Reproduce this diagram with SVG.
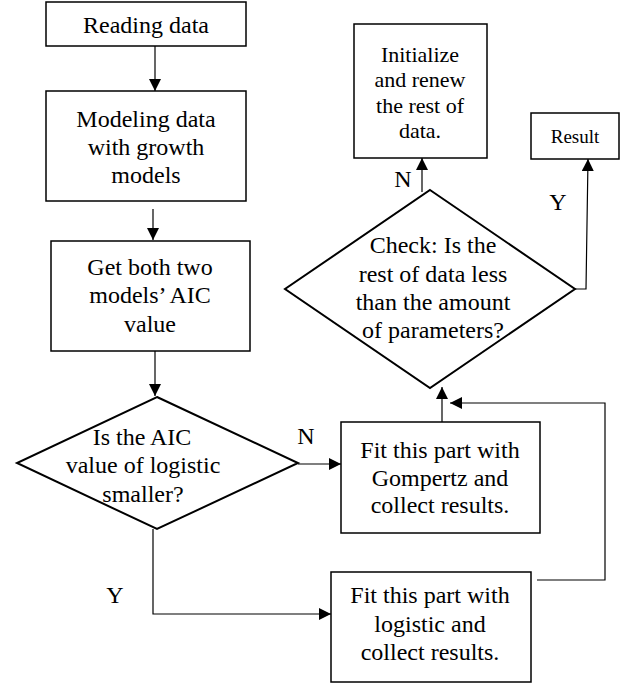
<svg xmlns="http://www.w3.org/2000/svg" width="631" height="685" viewBox="0 0 631 685">
<defs>
<style>
.b{fill:#fff;stroke:#000;stroke-width:1.5}
.d{fill:#fff;stroke:#000;stroke-width:2}
.c{fill:none;stroke:#000;stroke-width:1.2}
text{font-family:"Liberation Serif","Times New Roman",serif;font-size:24px;fill:#000;text-anchor:middle}
.s{font-size:22px}
.r{font-size:19px}
</style>
<marker id="ah" viewBox="0 0 12 12" refX="12" refY="6" markerWidth="12" markerHeight="12" markerUnits="userSpaceOnUse" orient="auto">
<path d="M0,0 L12,6 L0,12 Z" fill="#000"/>
</marker>
</defs>
<rect width="631" height="685" fill="#fff"/>
<g id="connectors">
<line class="c" x1="155" y1="46" x2="155" y2="91" marker-end="url(#ah)"/>
<line class="c" x1="153" y1="209" x2="153" y2="240" marker-end="url(#ah)"/>
<line class="c" x1="155" y1="351" x2="155" y2="396" marker-end="url(#ah)"/>
<line class="c" x1="298" y1="464" x2="341" y2="464" marker-end="url(#ah)"/>
<polyline class="c" points="153,529 153,614 331,614" marker-end="url(#ah)"/>
<polyline class="c" points="537,580 605,580 605,403 450,403" marker-end="url(#ah)"/>
<line class="c" x1="442" y1="422" x2="442" y2="387" marker-end="url(#ah)"/>
<line class="c" x1="422" y1="192" x2="422" y2="158" marker-end="url(#ah)"/>
<polyline class="c" points="575,289 586,289 588,159" marker-end="url(#ah)"/>
<text x="306" y="444">N</text>
<text x="115" y="603">Y</text>
<text x="403" y="187">N</text>
<text x="558" y="210">Y</text>
</g>
<g id="reading">
<rect class="b" x="46" y="2" width="200" height="44"/>
<text x="146" y="33">Reading data</text>
</g>
<g id="modeling">
<rect class="b" x="46" y="91" width="200" height="110"/>
<text x="146" y="127">Modeling data</text>
<text x="146" y="155">with growth</text>
<text x="146" y="183">models</text>
</g>
<g id="getaic">
<rect class="b" x="51" y="241" width="199" height="110"/>
<text x="150" y="275">Get both two</text>
<text x="150" y="303">models’ AIC</text>
<text x="150" y="332">value</text>
</g>
<g id="decision1">
<polygon class="d" points="157,397 298,463 157,529 17,463"/>
<text x="142" y="445">Is the AIC</text>
<text x="143" y="473">value of logistic</text>
<text x="143" y="502">smaller?</text>
</g>
<g id="gompertz">
<rect class="b" x="341" y="422" width="199" height="111"/>
<text x="440" y="458">Fit this part with</text>
<text x="440" y="486">Gompertz and</text>
<text x="440" y="513">collect results.</text>
</g>
<g id="logistic">
<rect class="b" x="331" y="572" width="200" height="110"/>
<text x="430" y="603">Fit this part with</text>
<text x="430" y="632">logistic and</text>
<text x="430" y="660">collect results.</text>
</g>
<g id="decision2">
<polygon class="d" points="430,190 575,289 430,388 285,289"/>
<text x="433" y="253">Check: Is the</text>
<text x="433" y="282">rest of data less</text>
<text x="433" y="310">than the amount</text>
<text x="433" y="338">of parameters?</text>
</g>
<g id="initialize">
<rect class="b" x="354" y="24" width="133" height="134"/>
<text class="s" x="420" y="62">Initialize</text>
<text class="s" x="420" y="87">and renew</text>
<text class="s" x="420" y="113">the rest of</text>
<text class="s" x="420" y="138">data.</text>
</g>
<g id="result">
<rect class="b" x="531" y="113" width="88" height="46"/>
<text class="r" x="575" y="143">Result</text>
</g>
</svg>
